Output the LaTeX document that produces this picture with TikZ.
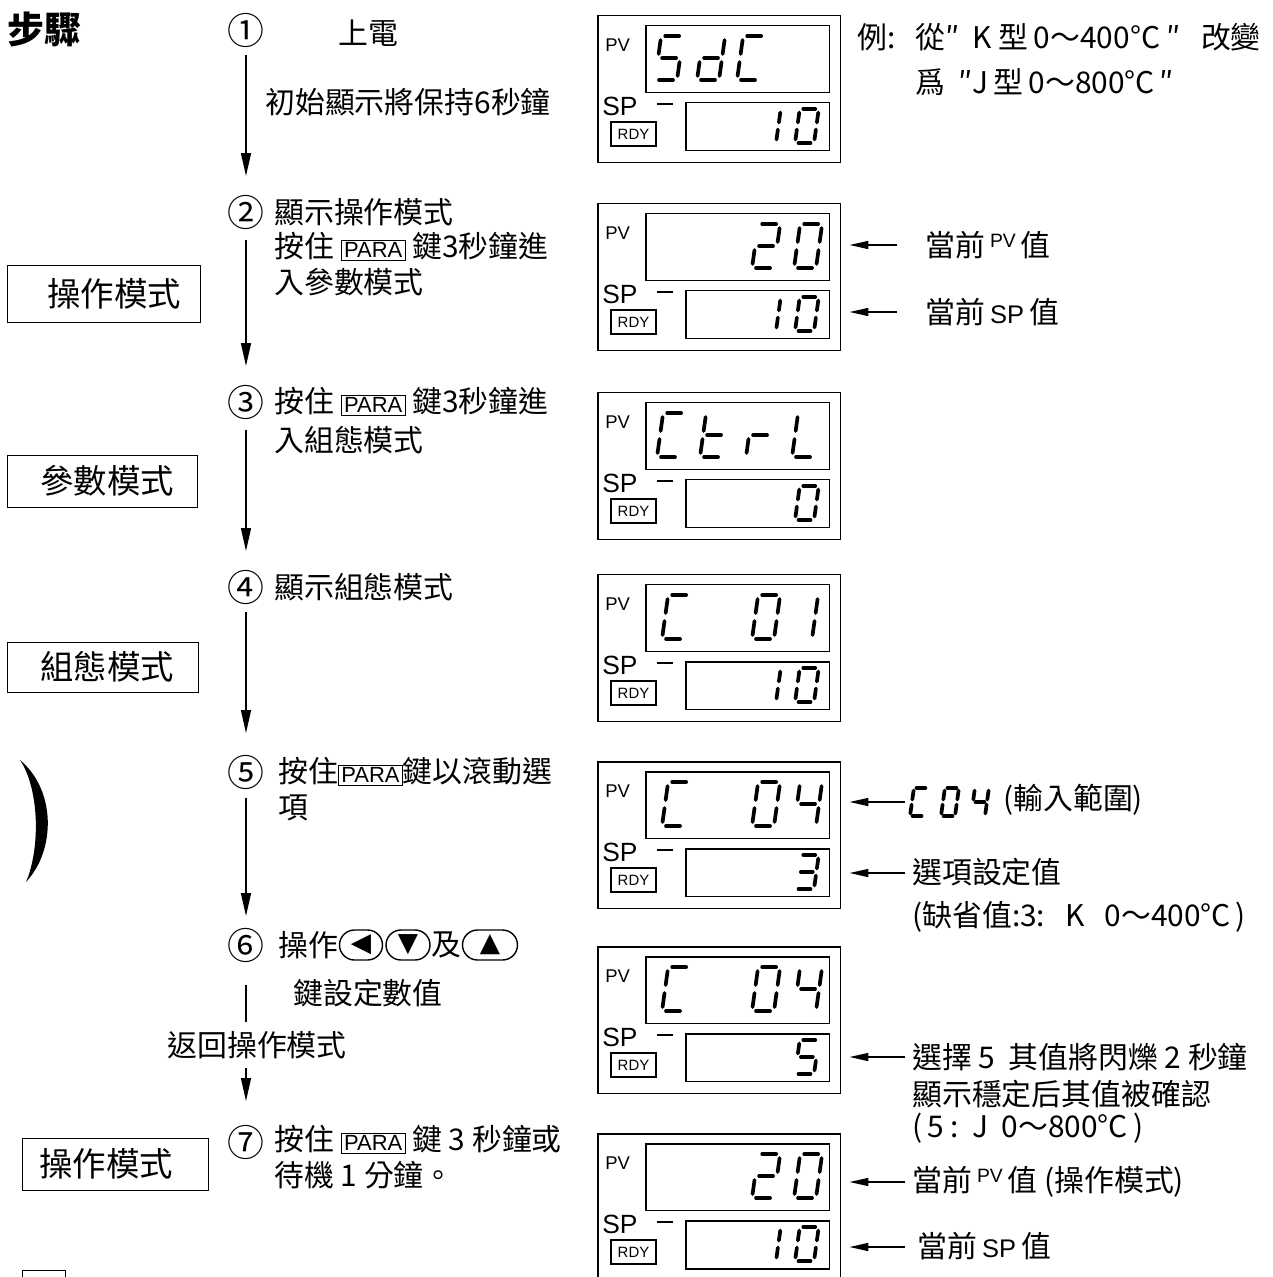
\documentclass[tikz,border=0pt]{standalone}
\usepackage{fontspec}
\setmainfont{Noto Sans CJK TC}
\newfontfamily\lat{Liberation Sans}
\newfontfamily\dvs{DejaVu Sans}
\usetikzlibrary{shapes.misc,arrows.meta}
\newcommand\fsz[1]{\fontsize{#1}{#1}\selectfont}
\newcommand\kbd[1]{{\fboxsep=1.3pt\fboxrule=0.6pt\fbox{\fsz{12.5}\lat #1}}}
\newcommand\sga{\draw[seg] (\sgp,-\sh) -- (\sw-\sgp,-\sh);}
\newcommand\sgb{\draw[seg] (\sw,-\sh+\sgp) -- (\sw,-\sh/2-\sgp);}
\newcommand\sgc{\draw[seg] (\sw,-\sh/2+\sgp) -- (\sw,-\sgp);}
\newcommand\sgd{\draw[seg] (\sgp,0) -- (\sw-\sgp,0);}
\newcommand\sge{\draw[seg] (0,-\sh/2+\sgp) -- (0,-\sgp);}
\newcommand\sgf{\draw[seg] (0,-\sh+\sgp) -- (0,-\sh/2-\sgp);}
\newcommand\sgg{\draw[seg] (\sgp,-\sh/2) -- (\sw-\sgp,-\sh/2);}
\newcommand\sevseg[6]{%
  \begin{scope}[shift={(#1,#2)}, xslant=0.14]
    \def\sw{#3}\def\sh{#4}\def\sgp{#5}
    \foreach \s in {#6}{\csname sg\s\endcsname}
  \end{scope}}
\newcommand\pvd[3]{\sevseg{#1}{#2+65}{22}{44}{4}{#3}}
\newcommand\spd[3]{\sevseg{#1}{#2+128}{19}{34}{3.5}{#3}}
\newcommand\panel[2]{%
  \node[panel] (#2) at (597,#1) {};
  \node[pvwin] (#2pv) at (645,#1+10) {};
  \node[spwin] (#2sp) at (685,#1+87) {};
  \node[rdy] (#2rdy) at (633.5,#1+119) {RDY};
  \node[pvlab] (#2pvl) at (605,#1+30) {PV};
  \node[splab] (#2spl) at (602,#1+91) {SP};
  \draw[line width=0.8pt] (657,#1+89) -- (673,#1+89);}
\begin{document}
\begin{tikzpicture}[x=0.02cm,y=-0.02cm,
  txt/.style={anchor=west,inner sep=0pt,font=\fsz{17}},
  num/.style={inner sep=0pt,font=\fsz{21}},
  panel/.style={draw,line width=0.85pt,minimum width=4.86cm,minimum height=2.94cm,inner sep=0pt,anchor=north west},
  pvwin/.style={draw,line width=0.85pt,minimum width=3.68cm,minimum height=1.34cm,inner sep=0pt,anchor=north west},
  spwin/.style={draw,line width=0.85pt,minimum width=2.88cm,minimum height=0.96cm,inner sep=0pt,anchor=north west},
  rdy/.style={draw,line width=0.7pt,minimum width=0.9cm,minimum height=0.48cm,inner sep=0pt,font=\lat\fsz{8.5}},
  pvlab/.style={anchor=west,inner sep=0pt,font=\lat\fsz{10.5}},
  splab/.style={anchor=west,inner sep=0pt,font=\lat\fsz{15}},
  seg/.style={line width=2.1pt,line cap=round},
  modebox/.style={draw,line width=0.8pt,inner sep=0pt,anchor=north west},
  modetxt/.style={inner sep=0pt,font=\fsz{19}},
  flow/.style={line width=0.9pt,-{Triangle[length=0.46cm,width=0.2cm]}},
  ptr/.style={line width=0.9pt,shorten >=0.16cm,-{Triangle[length=0.38cm,width=0.16cm]}},
  keycap/.style={draw,rounded rectangle,line width=0.8pt,minimum height=0.6cm,inner sep=0pt,font=\dvs\fsz{15}},
]
\useasboundingbox (0,0) rectangle (1272,1277);
\clip (0,0) rectangle (1272,1277);

% title
\node[anchor=west,inner sep=0pt,font=\bfseries\fsz{21}] (title) at (7,30) {步驟};

% left mode boxes
\node[modebox,minimum width=3.86cm,minimum height=1.14cm] (m1) at (7,265) {};
\node[modetxt] (m1t) at (114,294) {操作模式};
\node[modebox,minimum width=3.8cm,minimum height=1.04cm] (m2) at (7,455) {};
\node[modetxt] (m2t) at (107,481) {參數模式};
\node[modebox,minimum width=3.82cm,minimum height=1.0cm] (m3) at (7,642) {};
\node[modetxt] (m3t) at (107,667) {組態模式};
\node[modebox,minimum width=3.72cm,minimum height=1.04cm] (m4) at (22,1138) {};
\node[modetxt] (m4t) at (106,1164) {操作模式};
\node[modebox,minimum width=0.86cm,minimum height=0.6cm] (m5) at (22,1270) {};

% scan mark
\fill (20,760) .. controls (56,790) and (56,850) .. (26,882) .. controls (40,850) and (40,790) .. (20,760) -- cycle;

% step numbers
\node[num] (c1) at (246,30) {①};
\node[num] (c2) at (246,212) {②};
\node[num] (c3) at (246,402) {③};
\node[num] (c4) at (246,587) {④};
\node[num] (c5) at (246,772) {⑤};
\node[num] (c6) at (246,945) {⑥};
\node[num] (c7) at (246,1142) {⑦};

% step texts
\node[txt] (s1a) at (338,33) {上電};
\node[txt] (s1b) at (265,102) {初始顯示將保持6秒鐘};
\node[txt] (s2a) at (274,212) {顯示操作模式};
\node[txt] (s2b) at (274,247) {按住 \kbd{PARA} 鍵3秒鐘進};
\node[txt] (s2c) at (274,282) {入參數模式};
\node[txt] (s3a) at (274,402) {按住 \kbd{PARA} 鍵3秒鐘進};
\node[txt] (s3b) at (274,440) {入組態模式};
\node[txt] (s4a) at (274,587) {顯示組態模式};
\node[txt] (s5a) at (278,772) {按住\kbd{PARA}鍵以滾動選};
\node[txt] (s5b) at (278,808) {項};
\node[txt] (s6a) at (278,945) {操作};
\node[keycap,minimum width=0.86cm] (k1) at (361,945) {◀};
\node[keycap,minimum width=0.88cm] (k2) at (408,945) {▼};
\node[txt] (s6b) at (431,945) {及};
\node[keycap,minimum width=1.1cm] (k3) at (490,945) {▲};
\node[txt] (s6c) at (293,993) {鍵設定數值};
\node[txt,anchor=center] (ret) at (257,1045) {返回操作模式};
\node[txt] (s7a) at (274,1140) {按住 \kbd{PARA} 鍵 3 秒鐘或};
\node[txt] (s7b) at (274,1175) {待機 1 分鐘。};

% flow arrows
\coordinate (a1s) at (246,55);  \coordinate (a1e) at (246,176);
\coordinate (a2s) at (246,240); \coordinate (a2e) at (246,366);
\coordinate (a3s) at (246,430); \coordinate (a3e) at (246,551);
\coordinate (a4s) at (246,612); \coordinate (a4e) at (246,733);
\coordinate (a5s) at (246,798); \coordinate (a5e) at (246,916);
\coordinate (a6s) at (246,985); \coordinate (a6e) at (246,1022);
\coordinate (a7s) at (246,1068); \coordinate (a7e) at (246,1101);
\draw[flow] (a1s) -- (a1e);
\draw[flow] (a2s) -- (a2e);
\draw[flow] (a3s) -- (a3e);
\draw[flow] (a4s) -- (a4e);
\draw[flow] (a5s) -- (a5e);
\draw[line width=0.9pt] (a6s) -- (a6e);
\draw[flow] (a7s) -- (a7e);

% panels
\panel{15}{p1}
\pvd{655}{15}{a,f,g,c,d}\pvd{697}{15}{b,c,d,e,g}\pvd{737}{15}{a,f,e,d}
\spd{757}{15}{b,c}\spd{795}{15}{a,b,c,d,e,f}
\panel{203}{p2}
\pvd{752}{203}{a,b,g,e,d}\pvd{794}{203}{a,b,c,d,e,f}
\spd{757}{203}{b,c}\spd{795}{203}{a,b,c,d,e,f}
\panel{392}{p3}
\pvd{657}{392}{a,f,e,d}\pvd{700}{392}{f,e,g,d}\pvd{746}{392}{e,g}\pvd{792}{392}{f,e,d}
\spd{795}{392}{a,b,c,d,e,f}
\panel{574}{p4}
\pvd{662}{574}{a,f,e,d}\pvd{752}{574}{a,b,c,d,e,f}\pvd{790}{574}{b,c}
\spd{757}{574}{b,c}\spd{795}{574}{a,b,c,d,e,f}
\panel{761}{p5}
\pvd{662}{761}{a,f,e,d}\pvd{752}{761}{a,b,c,d,e,f}\pvd{794}{761}{f,g,b,c}
\spd{795}{761}{a,b,g,c,d}
\panel{946}{p6}
\pvd{662}{946}{a,f,e,d}\pvd{752}{946}{a,b,c,d,e,f}\pvd{794}{946}{f,g,b,c}
\spd{795}{946}{a,f,g,c,d}
\panel{1133}{p7}
\pvd{752}{1133}{a,b,g,e,d}\pvd{794}{1133}{a,b,c,d,e,f}
\spd{757}{1133}{b,c}\spd{795}{1133}{a,b,c,d,e,f}

% right notes
\node[txt] (ex1) at (857,37) {例:\ \ \ 從″\ \ K\ 型\,0～400°C\ ″\ \ \ 改變};
\node[txt] (ex2) at (915,82) {爲\ \ ″J\,型\,0～800°C\,″};

\coordinate (q1) at (897,245);
\draw[ptr] (q1) -- (p2.east |- q1);
\node[txt] (r1) at (925,245) {當前\,\raisebox{5pt}{\lat\fsz{11}PV}\,值};
\coordinate (q2) at (897,312);
\draw[ptr] (q2) -- (p2.east |- q2);
\node[txt] (r2) at (925,312) {當前\,{\lat\fsz{14.5}SP}\,值};

\coordinate (q3) at (905,802);
\draw[ptr] (q3) -- (p5.east |- q3);
\sevseg{910}{816}{14}{28}{2.5}{a,f,e,d}\sevseg{941}{816}{14}{28}{2.5}{a,b,c,d,e,f}\sevseg{971}{816}{14}{28}{2.5}{f,g,b,c}
\node[txt] (r3) at (1003,800) {(輸入範圍)};
\coordinate (q4) at (905,873);
\draw[ptr] (q4) -- (p5.east |- q4);
\node[txt] (r4) at (912,872) {選項設定值};
\node[txt] (r5) at (912,917) {(缺省值:3:\ \ \ K\ \ \ 0～400°C\,)};

\coordinate (q6) at (905,1057);
\draw[ptr] (q6) -- (p6.east |- q6);
\node[txt] (r6) at (912,1057) {選擇 5 \ 其值將閃爍 2 秒鐘};
\node[txt] (r7) at (912,1094) {顯示穩定后其值被確認};
\node[txt] (r8) at (912,1128) {(\,5\ :\ \ J\ \ 0～800°C\,)};

\coordinate (q9) at (905,1182);
\draw[ptr] (q9) -- (p7.east |- q9);
\node[txt] (r9) at (912,1182) {當前\,\raisebox{5pt}{\lat\fsz{11}PV}\,值\ (操作模式)};
\coordinate (q10) at (905,1247);
\draw[ptr] (q10) -- (p7.east |- q10);
\node[txt] (r10) at (917,1246) {當前\,{\lat\fsz{14.5}SP}\,值};
\end{tikzpicture}
\end{document}
